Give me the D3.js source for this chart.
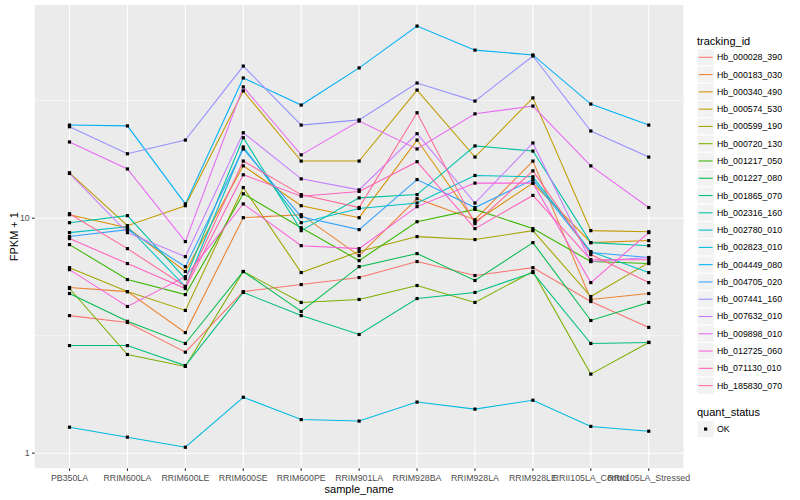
<!DOCTYPE html>
<html>
<head>
<meta charset="utf-8">
<script src="https://cdn.jsdelivr.net/npm/d3@7"></script>
<style>
  body { margin: 0; background: #fff; }
  svg { display: block; font-family: "Liberation Sans", Arial, sans-serif; }
</style>
</head>
<body>
<div id="chart"></div>
<script>
// Samples along the x axis
const samples = ['PB350LA', 'RRIM600LA', 'RRIM600LE', 'RRIM600SE', 'RRIM600PE', 'RRIM901LA',
  'RRIM928BA', 'RRIM928LA', 'RRIM928LE', 'RRII105LA_Control', 'RRII105LA_Stressed'];

// Transcripts, in legend order
const trackingIds = ['Hb_000028_390', 'Hb_000183_030', 'Hb_000340_490', 'Hb_000574_530',
  'Hb_000599_190', 'Hb_000720_130', 'Hb_001217_050', 'Hb_001227_080', 'Hb_001865_070',
  'Hb_002316_160', 'Hb_002780_010', 'Hb_002823_010', 'Hb_004449_080', 'Hb_004705_020',
  'Hb_007441_160', 'Hb_007632_010', 'Hb_009898_010', 'Hb_012725_060', 'Hb_071130_010',
  'Hb_185830_070'];

// FPKM + 1, one row per transcript, one value per sample
const fpkmPlus1 = [
  [3.85, 3.60, 2.69, 4.87, 5.22, 5.59, 6.54, 5.70, 6.16, 4.42, 3.43],
  [5.07, 4.87, 3.26, 10.05, 10.35, 6.93, 12.1, 9.85, 17.5, 4.51, 4.78],
  [10.35, 9.11, 5.93, 16.7, 11.3, 10.05, 21.5, 9.66, 14.1, 7.87, 8.03],
  [15.6, 9.29, 11.3, 34.8, 17.5, 17.5, 35.1, 18.2, 32.5, 8.85, 8.76],
  [6.16, 4.87, 4.05, 13.5, 5.87, 7.21, 8.35, 8.11, 8.85, 4.64, 6.47],
  [5.02, 2.63, 2.34, 5.93, 4.38, 4.51, 5.17, 4.38, 5.93, 2.17, 2.96],
  [7.72, 5.48, 4.73, 12.7, 9.11, 6.60, 9.66, 10.9, 9.03, 6.54, 6.41],
  [4.78, 3.64, 2.93, 5.93, 4.01, 6.22, 7.07, 5.43, 7.87, 3.67, 4.38],
  [2.87, 2.87, 2.36, 4.83, 3.85, 3.20, 4.55, 4.83, 5.87, 2.93, 2.96],
  [9.57, 10.25, 5.53, 22.0, 8.85, 12.2, 12.6, 20.3, 19.3, 7.87, 7.64],
  [8.68, 9.20, 5.12, 20.1, 9.57, 11.0, 11.6, 15.2, 15.0, 7.21, 5.87],
  [1.29, 1.17, 1.06, 1.73, 1.39, 1.37, 1.65, 1.54, 1.68, 1.30, 1.24],
  [24.9, 24.7, 11.5, 39.5, 30.3, 43.6, 65.7, 51.9, 49.5, 30.6, 24.9],
  [8.35, 8.94, 6.22, 19.7, 10.15, 8.94, 14.6, 11.1, 14.6, 7.14, 6.80],
  [24.5, 18.8, 21.5, 44.4, 24.9, 26.2, 37.6, 31.5, 49.0, 23.5, 18.2],
  [15.5, 8.68, 6.86, 23.1, 14.7, 13.2, 22.9, 11.6, 20.9, 6.54, 6.80],
  [21.1, 16.2, 7.95, 36.2, 18.6, 25.9, 19.7, 27.8, 30.0, 16.7, 11.1],
  [6.04, 4.21, 5.64, 11.5, 7.64, 7.42, 11.2, 14.1, 14.1, 5.32, 8.68],
  [8.19, 6.41, 5.02, 15.3, 12.4, 13.0, 17.4, 9.03, 12.5, 6.66, 6.66],
  [10.45, 7.42, 5.12, 17.5, 12.6, 11.1, 28.1, 9.48, 15.9, 7.00, 5.32]
];

const quantStatus = ['OK'];
const yBreaks = [1, 10];

// ggplot default hue palette for 20 levels
const palette = ['#F8766D', '#EA8331', '#D89000', '#C09B00', '#A3A500', '#7CAE00', '#39B600',
  '#00BB4E', '#00BF7D', '#00C1A3', '#00BFC4', '#00BAE0', '#00B0F6', '#35A2FF', '#9590FF',
  '#C77CFF', '#E76BF3', '#FA62DB', '#FF62BC', '#FF6A98'];

function draw() {
  const width = 800, height = 500;
  const panel = { left: 34.75, right: 683.5, top: 5, bottom: 468.3 };

  const svg = d3.select('#chart').append('svg')
    .attr('width', width)
    .attr('height', height);

  svg.append('rect').attr('width', width).attr('height', height).attr('fill', '#fff');

  // scales
  const x = d3.scalePoint()
    .domain(samples)
    .range([panel.left, panel.right])
    .padding(0.6);

  // log scale with ggplot's 5% expansion in log space
  const all = fpkmPlus1.flat();
  const lo = Math.log10(d3.min(all)), hi = Math.log10(d3.max(all));
  const pad = (hi - lo) * 0.05;
  const y = d3.scaleLog()
    .domain([Math.pow(10, lo - pad), Math.pow(10, hi + pad)])
    .range([panel.bottom, panel.top]);

  // panel background
  svg.append('rect')
    .attr('x', panel.left).attr('y', panel.top)
    .attr('width', panel.right - panel.left)
    .attr('height', panel.bottom - panel.top)
    .attr('fill', '#EBEBEB');

  const grid = svg.append('g');
  const minor = [Math.sqrt(10), Math.sqrt(1000)].filter(v => y(v) > panel.top && y(v) < panel.bottom);
  grid.selectAll('.minor')
    .data(minor)
    .join('line')
    .attr('x1', panel.left).attr('x2', panel.right)
    .attr('y1', d => y(d)).attr('y2', d => y(d))
    .attr('stroke', '#fff').attr('stroke-width', 0.53);

  grid.selectAll('.major-y')
    .data(yBreaks)
    .join('line')
    .attr('x1', panel.left).attr('x2', panel.right)
    .attr('y1', d => y(d)).attr('y2', d => y(d))
    .attr('stroke', '#fff').attr('stroke-width', 1.07);

  grid.selectAll('.major-x')
    .data(samples)
    .join('line')
    .attr('x1', d => x(d)).attr('x2', d => x(d))
    .attr('y1', panel.top).attr('y2', panel.bottom)
    .attr('stroke', '#fff').attr('stroke-width', 1.07);

  // lines
  const line = d3.line()
    .x((d, i) => x(samples[i]))
    .y(d => y(d));

  svg.append('g').selectAll('path')
    .data(fpkmPlus1)
    .join('path')
    .attr('d', line)
    .attr('fill', 'none')
    .attr('stroke', (d, i) => palette[i])
    .attr('stroke-width', 1.07);

  // points
  const pts = [];
  fpkmPlus1.forEach(row => row.forEach((v, i) => pts.push({ s: samples[i], v })));
  svg.append('g').selectAll('rect')
    .data(pts)
    .join('rect')
    .attr('x', d => x(d.s) - 1.6)
    .attr('y', d => y(d.v) - 1.6)
    .attr('width', 3.2).attr('height', 3.2)
    .attr('fill', '#000');

  // y axis
  const yAxis = svg.append('g');
  yAxis.selectAll('line')
    .data(yBreaks)
    .join('line')
    .attr('x1', panel.left - 2.74).attr('x2', panel.left)
    .attr('y1', d => y(d)).attr('y2', d => y(d))
    .attr('stroke', '#333').attr('stroke-width', 1.07);
  yAxis.selectAll('text')
    .data(yBreaks)
    .join('text')
    .attr('x', panel.left - 5)
    .attr('y', d => y(d))
    .attr('text-anchor', 'end')
    .attr('dominant-baseline', 'central')
    .style('font-size', '8.8px')
    .attr('fill', '#4D4D4D')
    .text(d => d);

  // x axis
  const xAxis = svg.append('g');
  xAxis.selectAll('line')
    .data(samples)
    .join('line')
    .attr('x1', d => x(d)).attr('x2', d => x(d))
    .attr('y1', panel.bottom).attr('y2', panel.bottom + 2.74)
    .attr('stroke', '#333').attr('stroke-width', 1.07);
  xAxis.selectAll('text')
    .data(samples)
    .join('text')
    .attr('x', d => x(d))
    .attr('y', panel.bottom + 9.2)
    .attr('text-anchor', 'middle')
    .attr('dominant-baseline', 'central')
    .style('font-size', '8.8px')
    .attr('fill', '#4D4D4D')
    .text(d => d);

  // axis titles
  svg.append('text')
    .attr('x', (panel.left + panel.right) / 2)
    .attr('y', 488.5)
    .attr('text-anchor', 'middle')
    .attr('dominant-baseline', 'central')
    .style('font-size', '11px')
    .text('sample_name');

  svg.append('text')
    .attr('transform', `translate(13.5,${(panel.top + panel.bottom) / 2}) rotate(-90)`)
    .attr('text-anchor', 'middle')
    .attr('dominant-baseline', 'central')
    .style('font-size', '11px')
    .text('FPKM + 1');

  createLegend(svg);
}

// Legend for tracking_id and quant_status
function createLegend(svg) {
  const lx = 697, key = 17.28;
  const legend = svg.append('g');

  legend.append('text')
    .attr('x', lx).attr('y', 40.5)
    .attr('dominant-baseline', 'central')
    .style('font-size', '11px')
    .text('tracking_id');

  const items = legend.selectAll('.legend-item')
    .data(trackingIds)
    .join('g')
    .attr('class', 'legend-item')
    .attr('transform', (d, i) => `translate(${lx},${48.66 + i * key})`);

  items.append('rect')
    .attr('width', key).attr('height', key)
    .attr('fill', '#F2F2F2')
    .attr('stroke', '#fff');

  items.append('line')
    .attr('x1', 1.7).attr('x2', key - 1.7)
    .attr('y1', key / 2).attr('y2', key / 2)
    .attr('stroke', (d, i) => palette[i])
    .attr('stroke-width', 1.07);

  items.append('text')
    .attr('x', key + 2.7).attr('y', key / 2)
    .attr('dominant-baseline', 'central')
    .style('font-size', '8.8px')
    .text(d => d);

  legend.append('text')
    .attr('x', lx).attr('y', 412.3)
    .attr('dominant-baseline', 'central')
    .style('font-size', '11px')
    .text('quant_status');

  const q = legend.selectAll('.q-item')
    .data(quantStatus)
    .join('g')
    .attr('class', 'q-item')
    .attr('transform', (d, i) => `translate(${lx},${420.4 + i * key})`);

  q.append('rect')
    .attr('width', key).attr('height', key)
    .attr('fill', '#F2F2F2')
    .attr('stroke', '#fff');

  q.append('rect')
    .attr('x', key / 2 - 1.6).attr('y', key / 2 - 1.6)
    .attr('width', 3.2).attr('height', 3.2)
    .attr('fill', '#000');

  q.append('text')
    .attr('x', key + 2.7).attr('y', key / 2)
    .attr('dominant-baseline', 'central')
    .style('font-size', '8.8px')
    .text(d => d);
}

document.addEventListener('DOMContentLoaded', draw);
</script>
</body>
</html>
